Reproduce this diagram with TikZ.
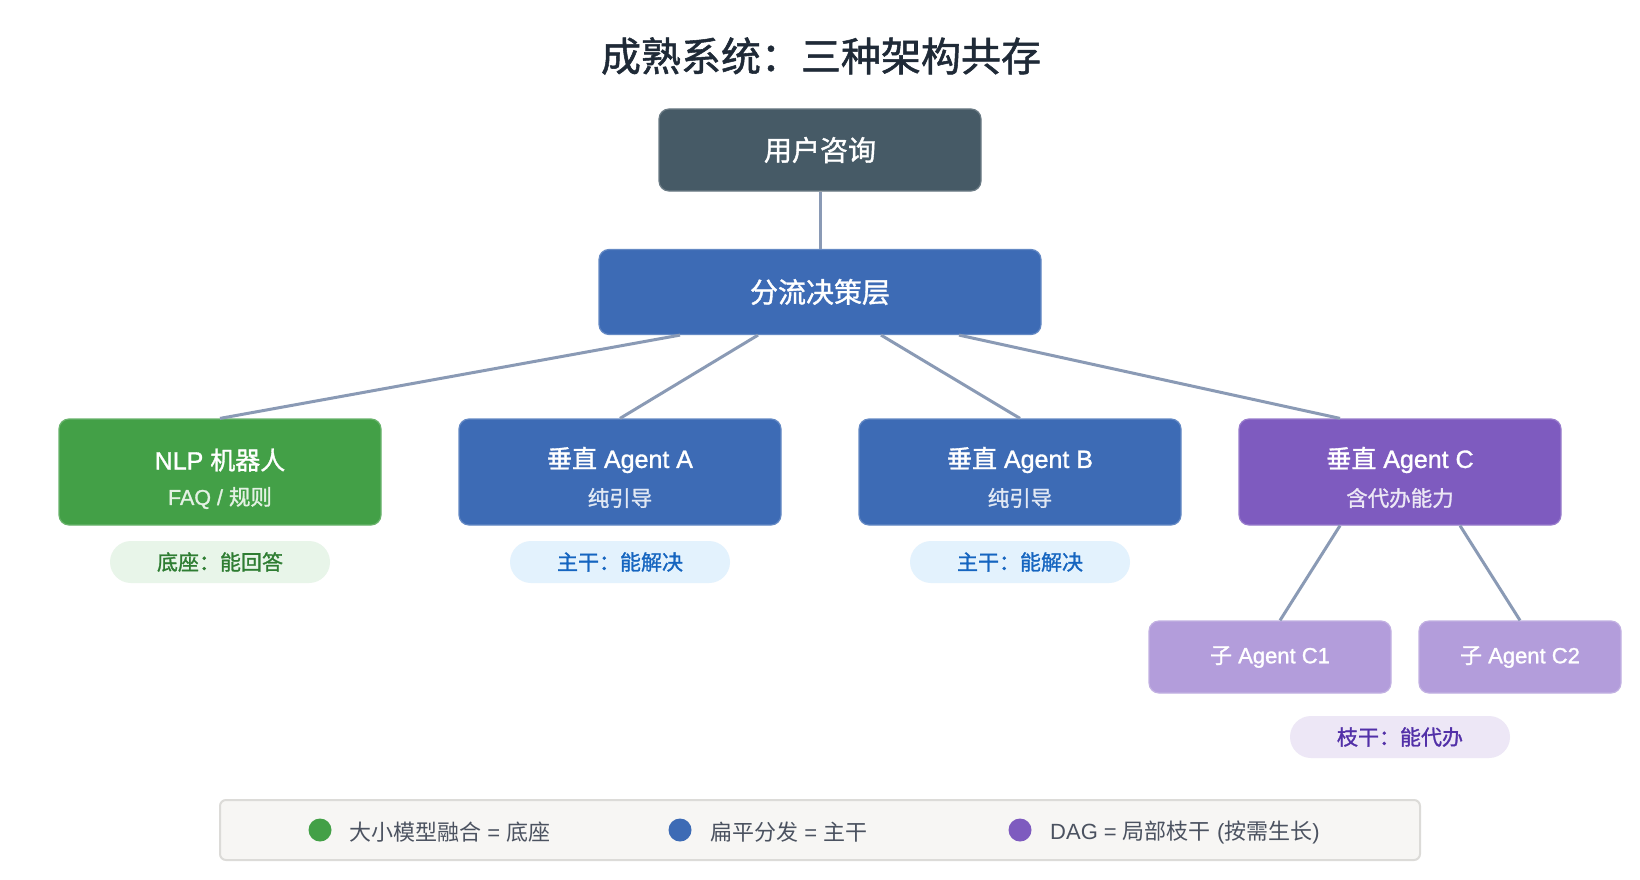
\documentclass[tikz,border=0pt]{standalone}
\usepackage{fontspec}
\setmainfont{Liberation Sans}[BoldFont=Liberation Sans, BoldFeatures={FakeBold=1.3}]
\newfontfamily\cjk{Noto Sans CJK SC}[BoldFont=Noto Sans CJK SC, BoldFeatures={FakeBold=1.3}]
\usetikzlibrary{calc}
\definecolor{titlec}{HTML}{1F2A37}
\definecolor{userc}{HTML}{465A66}
\definecolor{bluec}{HTML}{3D6BB5}
\definecolor{greenc}{HTML}{43A047}
\definecolor{purplec}{HTML}{7E5BBF}
\definecolor{lpurplec}{HTML}{B39DDB}
\definecolor{pillgbg}{HTML}{E8F5E9}
\definecolor{pillgtx}{HTML}{2E7D32}
\definecolor{pillbbg}{HTML}{E3F2FD}
\definecolor{pillbtx}{HTML}{1565C0}
\definecolor{pillpbg}{HTML}{EDE7F6}
\definecolor{pillptx}{HTML}{5230A8}
\definecolor{connc}{HTML}{8A9AB5}
\definecolor{legbg}{HTML}{F7F6F4}
\definecolor{legbd}{HTML}{DCDBD8}
\definecolor{legtx}{HTML}{4B5260}
\tikzset{
  boxbase/.style={rounded corners=10pt, inner sep=0pt, align=center, text=white, line width=1.2pt},
  toplevel/.style={boxbase, minimum width=322pt, minimum height=82pt, fill=userc, draw=userc!80!white, font=\cjk\bfseries\fontsize{28}{32}\selectfont},
  splitbox/.style={boxbase, minimum width=442pt, minimum height=85pt, fill=bluec, draw=bluec!80!white, font=\cjk\bfseries\fontsize{28}{32}\selectfont},
  agentbox/.style={boxbase, minimum width=322pt, minimum height=106pt},
  mainln/.style={inner sep=0pt, text=white, font=\bfseries\fontsize{25}{30}\selectfont},
  subln/.style={inner sep=0pt, font=\bfseries\fontsize{21.5}{26}\selectfont},
  subbox/.style={boxbase, minimum height=72pt, fill=lpurplec, draw=lpurplec!80!white, font=\bfseries\fontsize{22}{26}\selectfont},
  pill/.style={rounded corners=21pt, inner sep=0pt, minimum width=220pt, minimum height=42pt, font=\cjk\bfseries\fontsize{21}{26}\selectfont},
  conn/.style={draw=connc, line width=3pt},
  legdot/.style={circle, inner sep=0pt, minimum size=23pt},
  legtext/.style={anchor=west, inner sep=0pt, text=legtx, font=\fontsize{22}{26}\selectfont}
}
\begin{document}
\begin{tikzpicture}[x=1pt,y=-1pt]
\useasboundingbox[fill=white] (0,0) rectangle (1640,880);
% title
\node[text=titlec, font=\cjk\bfseries\fontsize{40}{46}\selectfont] (title) at (821,56) {成熟系统：三种架构共存};
% top
\node[toplevel] (user) at (820,150) {用户咨询};
\node[splitbox] (split) at (820,292) {分流决策层};
% level 3
\node[agentbox, fill=greenc, draw=greenc!80!white] (nlp) at (220,472) {};
\node[mainln] (nlpt) at ($(nlp)+(0,-12)$) {NLP {\cjk 机器人}};
\node[subln, text=white!85!greenc] (nlps) at ($(nlp)+(0,26)$) {FAQ / {\cjk 规则}};
\node[agentbox, fill=bluec, draw=bluec!80!white] (a) at (620,472) {};
\node[mainln] (at) at ($(a)+(0,-12)$) {{\cjk 垂直} Agent A};
\node[subln, text=white!85!bluec] (as) at ($(a)+(0,26)$) {\cjk 纯引导};
\node[agentbox, fill=bluec, draw=bluec!80!white] (b) at (1020,472) {};
\node[mainln] (bt) at ($(b)+(0,-12)$) {{\cjk 垂直} Agent B};
\node[subln, text=white!85!bluec] (bs) at ($(b)+(0,26)$) {\cjk 纯引导};
\node[agentbox, fill=purplec, draw=purplec!80!white] (c) at (1400,472) {};
\node[mainln] (ct) at ($(c)+(0,-12)$) {{\cjk 垂直} Agent C};
\node[subln, text=white!85!purplec] (cs) at ($(c)+(0,26)$) {\cjk 含代办能力};
% pills
\node[pill, fill=pillgbg, text=pillgtx] (p1) at (220,562) {底座：能回答};
\node[pill, fill=pillbbg, text=pillbtx] (p2) at (620,562) {主干：能解决};
\node[pill, fill=pillbbg, text=pillbtx] (p3) at (1020,562) {主干：能解决};
% sub agents
\node[subbox, minimum width=242pt] (c1) at (1270,657) {{\cjk 子} Agent C1};
\node[subbox, minimum width=202pt] (c2) at (1520,657) {{\cjk 子} Agent C2};
\node[pill, fill=pillpbg, text=pillptx] (p4) at (1400,737) {枝干：能代办};
% connectors
\draw[conn] (user.south) -- (split.north);
\draw[conn] ([xshift=-140pt]split.south) -- (nlp.north);
\draw[conn] ([xshift=-62pt]split.south) -- (a.north);
\draw[conn] ([xshift=61pt]split.south) -- (b.north);
\draw[conn] ([xshift=139pt]split.south) -- ([xshift=-60pt]c.north);
\draw[conn] ([xshift=-60pt]c.south) -- ([xshift=10pt]c1.north);
\draw[conn] ([xshift=60pt]c.south) -- (c2.north);
% legend
\node[rounded corners=6pt, fill=legbg, draw=legbd, line width=2pt, minimum width=1200pt, minimum height=60pt, inner sep=0pt] (legend) at (820,830) {};
\node[legdot, fill=greenc] (d1) at (320,830) {};
\node[legtext] (l1) at (349,832) {{\cjk 大小模型融合} = {\cjk 底座}};
\node[legdot, fill=bluec] (d2) at (680,830) {};
\node[legtext] (l2) at (710,832) {{\cjk 扁平分发} = {\cjk 主干}};
\node[legdot, fill=purplec] (d3) at (1020,830) {};
\node[legtext] (l3) at (1050,832) {DAG = {\cjk 局部枝干} ({\cjk 按需生长})};
\end{tikzpicture}
\end{document}
